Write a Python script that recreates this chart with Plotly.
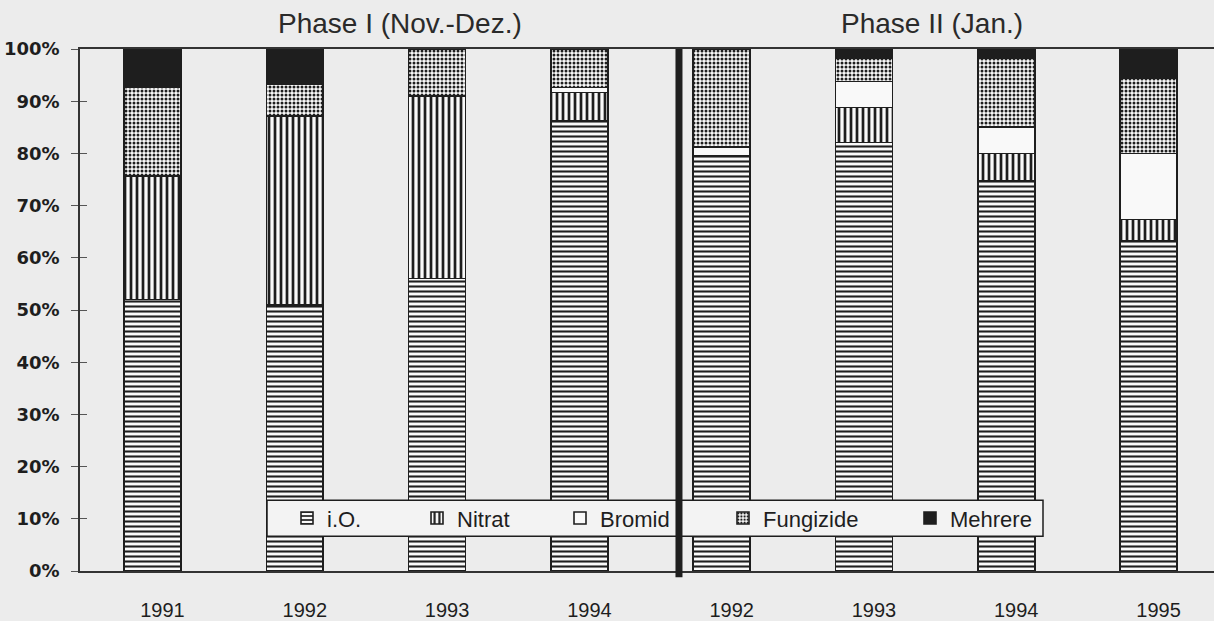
import plotly.graph_objects as go

# ---- data -------------------------------------------------------------
tick_labels = ["1991", "1992", "1993", "1994", "1992", "1993", "1994", "1995"]
positions = [0, 1, 2, 3, 4, 5, 6, 7]

io_vals        = [52.0, 51.0, 56.0, 86.2, 79.5, 82.1, 74.8, 63.3]
nitrat_vals    = [23.7, 36.2, 35.0, 5.5, 0.0, 6.7, 5.2, 4.0]
bromid_vals    = [0.0, 0.0, 0.0, 0.9, 1.7, 5.0, 5.1, 12.7]
fungizide_vals = [17.0, 6.0, 9.0, 7.4, 18.8, 4.4, 13.2, 14.5]
mehrere_vals   = [7.3, 6.8, 0.0, 0.0, 0.0, 1.8, 1.7, 5.5]

phase_titles = ["Phase I (Nov.-Dez.)", "Phase II (Jan.)"]
phase_divider = 3.70

# ---- style / layout helpers ------------------------------------------
FONT = "Arial, Liberation Sans, sans-serif"
INK = "#1e1e1e"
BG = "#ececec"
WHITE = "#f9f9f9"
W, H = 1214, 621
ML, MR, MT, MB = 80, 0, 49, 48
PW, PH = W - ML - MR, H - MT - MB


def px_x(px):
    return (px - ML) / PW


def px_y(py):
    return (H - MB - py) / PH


series = [
    ("i.O.", io_vals, dict(shape="-", size=5, solidity=0.42)),
    ("Nitrat", nitrat_vals, dict(shape="|", size=6, solidity=0.45)),
    ("Bromid", bromid_vals, None),
    ("Fungizide", fungizide_vals, dict(shape=".", size=4, solidity=0.45)),
    ("Mehrere", mehrere_vals, "solid"),
]
legend_text_px = [327, 457, 600, 763, 950]
legend_ids = ["legend", "legend2", "legend3", "legend4", "legend5"]

fig = go.Figure()
for (name, vals, pat), lid in zip(series, legend_ids):
    marker = dict(line=dict(color=INK, width=1.6))
    if pat is None:
        marker["color"] = WHITE
    elif pat == "solid":
        marker["color"] = INK
    else:
        marker["color"] = WHITE
        marker["pattern"] = dict(fgcolor=INK, bgcolor=WHITE, fillmode="replace", **pat)
    fig.add_trace(go.Bar(x=positions, y=vals, name=name, marker=marker, legend=lid))

# empty helper trace so the inner-tick overlay axis is drawn
fig.add_trace(go.Scatter(x=[], y=[], yaxis="y2", showlegend=False, hoverinfo="skip"))

legend_layout = {}
for lid, tx in zip(legend_ids, legend_text_px):
    legend_layout[lid] = dict(
        orientation="h",
        x=px_x(tx - 40), xanchor="left",
        y=px_y(520), yanchor="middle",
        bgcolor="rgba(0,0,0,0)", borderwidth=0,
        font=dict(family=FONT, size=22, color=INK),
        itemwidth=30,
    )

fig.update_layout(
    width=W, height=H,
    barmode="stack", bargap=0.6,
    paper_bgcolor=BG, plot_bgcolor=BG,
    margin=dict(l=ML, r=MR, t=MT, b=MB),
    font=dict(family=FONT, color=INK, size=17),
    showlegend=True,
    **legend_layout,
)

fig.update_xaxes(
    range=[-0.5095, 7.46],
    tickmode="array", tickvals=positions, ticktext=tick_labels,
    ticks="", showgrid=False, zeroline=False,
    showline=True, linecolor="#333", linewidth=1.6, mirror=True,
    tickfont=dict(family=FONT, size=20, color=INK),
    ticklabelstandoff=20, ticklabelshift=10,
)
fig.update_layout(yaxis=dict(
    range=[0, 100], dtick=10, ticksuffix="%",
    ticks="outside", ticklen=7, tickcolor="#555", tickwidth=1,
    showgrid=False, zeroline=False,
    showline=True, linecolor="#333", linewidth=1.8,
    tickfont=dict(family="DejaVu Sans, sans-serif", size=18, color=INK, weight="bold"),
    ticklabelstandoff=8,
))
# inner half of the crossing tick marks
fig.update_layout(yaxis2=dict(
    overlaying="y", side="left", anchor="x", range=[0, 100], dtick=10,
    ticks="inside", ticklen=7, tickcolor="#555", tickwidth=1,
    showticklabels=False, showgrid=False, zeroline=False, showline=False,
))

# legend frame
fig.add_shape(type="rect", xref="paper", yref="paper", layer="above",
              x0=px_x(267), x1=px_x(1043), y0=px_y(538), y1=px_y(502),
              fillcolor="#f3f3f3", line=dict(color=INK, width=1.5))

# phase divider
fig.add_shape(type="line", xref="x", yref="paper", layer="above",
              x0=phase_divider, x1=phase_divider, y0=-0.012, y1=1,
              line=dict(color=INK, width=7))

for title, cx in zip(phase_titles, [400, 932]):
    fig.add_annotation(text=title, xref="paper", yref="paper",
                       x=px_x(cx), y=px_y(23), xanchor="center", yanchor="middle",
                       showarrow=False,
                       font=dict(family=FONT, size=28, color="#2a2a2a"))

fig.write_html(
    "out.html",
    config={"displayModeBar": False},
    post_script="document.body.style.margin='0';document.body.style.background='#ececec';",
)
